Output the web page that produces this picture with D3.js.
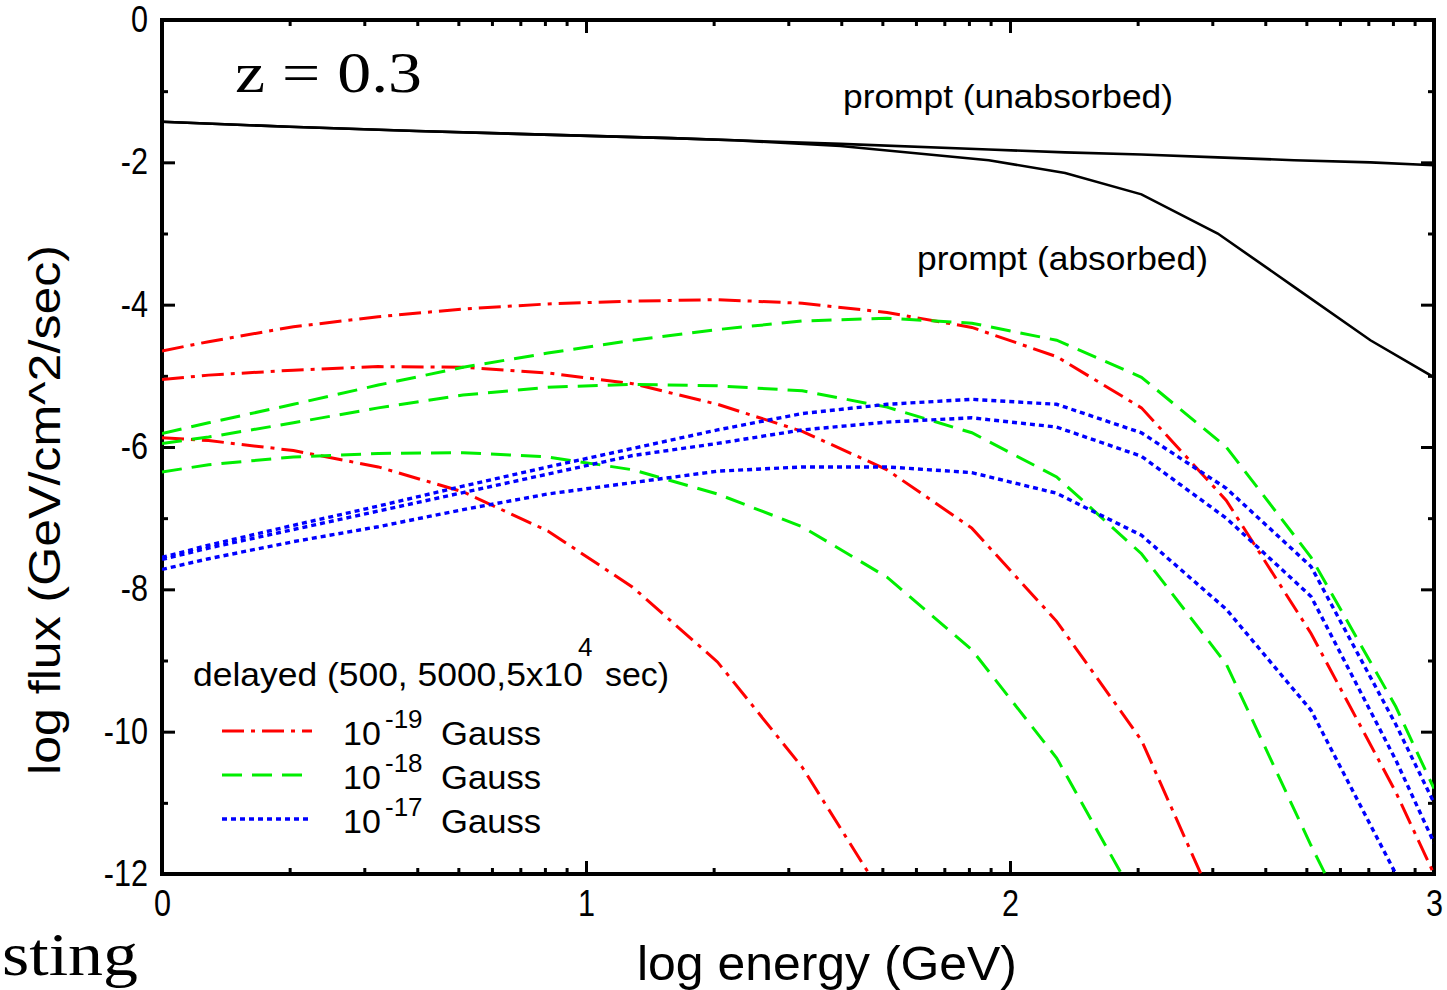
<!DOCTYPE html>
<html>
<head>
<meta charset="utf-8">
<script src="https://cdn.jsdelivr.net/npm/d3@7"></script>
<style>
  body { margin: 0; background: #fff; }
  svg { display: block; }
  .narrow { font-family: "Liberation Sans Narrow", "Arial Narrow", "Liberation Sans", Arial, sans-serif; }
</style>
</head>
<body>
<div id="chart"></div>
<script>
// energy grid (log GeV) for the delayed curves
var logE = [0, 0.11, 0.31, 0.51, 0.71, 0.91, 1.11, 1.31, 1.51, 1.71, 1.91, 2.11, 2.31, 2.51, 2.71, 2.91, 3.0];

// delayed, B = 1e-19 G (500, 5000, 5e4 sec)
var red500   = [-4.65, -4.52, -4.31, -4.17, -4.06, -3.99, -3.95, -3.93, -3.98, -4.11, -4.32, -4.73, -5.45, -6.75, -8.62, -10.85, -12.0];
var red5000  = [-5.05, -4.99, -4.92, -4.87, -4.88, -4.96, -5.11, -5.40, -5.78, -6.32, -7.14, -8.45, -10.12, -12.8];
var red5e4   = [-5.87, -5.91, -6.05, -6.28, -6.63, -7.18, -7.97, -9.02, -10.5, -12.4];
// delayed, B = 1e-18 G
var green500  = [-5.81, -5.66, -5.40, -5.13, -4.88, -4.68, -4.50, -4.35, -4.23, -4.19, -4.26, -4.50, -5.02, -6.00, -7.55, -9.65, -10.8];
var green5000 = [-5.95, -5.86, -5.66, -5.45, -5.27, -5.16, -5.12, -5.14, -5.21, -5.44, -5.80, -6.42, -7.50, -9.05, -11.6, -14.0];
var green5e4  = [-6.35, -6.25, -6.14, -6.09, -6.08, -6.14, -6.32, -6.66, -7.12, -7.83, -8.85, -10.37, -12.5];
// delayed, B = 1e-17 G
var blue500  = [-7.55, -7.38, -7.10, -6.83, -6.55, -6.28, -6.02, -5.76, -5.53, -5.40, -5.33, -5.40, -5.80, -6.58, -7.68, -9.90, -11.0];
var blue5000 = [-7.58, -7.42, -7.16, -6.90, -6.64, -6.38, -6.12, -5.95, -5.76, -5.65, -5.59, -5.72, -6.13, -7.00, -8.10, -10.4, -11.56];
var blue5e4  = [-7.72, -7.57, -7.33, -7.12, -6.88, -6.66, -6.50, -6.34, -6.28, -6.28, -6.36, -6.65, -7.24, -8.28, -9.70, -12.0];

// prompt emission
var logEPrompt  = [0, 0.3, 0.6, 0.9, 1.2, 1.35, 1.6, 1.95, 2.13, 2.31, 2.49, 2.67, 2.85, 3.0];
var unabsorbed  = [-1.43, -1.50, -1.56, -1.61, -1.66, -1.69, -1.74, -1.82, -1.86, -1.89, -1.93, -1.97, -2.00, -2.04];
var absorbed    = [-1.43, -1.50, -1.56, -1.61, -1.66, -1.69, -1.77, -1.97, -2.15, -2.45, -3.00, -3.75, -4.50, -5.02];

var xMajor = [0, 1, 2, 3];
var yMajor = [0, -2, -4, -6, -8, -10, -12];
var yMinor = [-1, -3, -5, -7, -9, -11];
var legendLabels = ["-19", "-18", "-17"];

var W = 1447, H = 990;
var margin = { top: 20, right: 13, bottom: 116, left: 162 },
  width = W - margin.left - margin.right,
  height = H - margin.top - margin.bottom;

var svg = d3.select("#chart").append("svg")
  .attr("width", W)
  .attr("height", H);

svg.append("rect").attr("width", W).attr("height", H).attr("fill", "#fff");

var g = svg.append("g")
  .attr("transform", "translate(" + margin.left + "," + margin.top + ")");

var x = d3.scaleLinear().domain([0, 3]).range([0, width]);
var y = d3.scaleLinear().domain([-12, 0]).range([height, 0]);

g.append("clipPath").attr("id", "plotclip")
  .append("rect").attr("width", width).attr("height", height);

// log-style minor ticks on the energy axis
var xMinor = [];
for (var k = 0; k < 3; k++) {
  for (var m = 2; m <= 9; m++) xMinor.push(k + Math.log10(m));
}

// squeeze text horizontally (the original uses a condensed face)
function squeeze(sel, f) {
  sel.each(function () {
    var w = this.getComputedTextLength();
    d3.select(this).attr("textLength", w * f).attr("lengthAdjust", "spacingAndGlyphs");
  });
}

function styleAxis(sel) {
  sel.select(".domain").remove();
  sel.selectAll("line").attr("stroke", "#000").attr("stroke-width", 3);
  sel.selectAll("text")
    .attr("class", "narrow")
    .style("font-size", "36px")
    .attr("fill", "#000");
}

var fmt = function (d) { return String(d); };

// bottom
g.append("g").attr("transform", "translate(0," + height + ")")
  .call(d3.axisBottom(x).tickValues(xMinor).tickSize(-6).tickFormat(""))
  .call(styleAxis);
var xAxis = g.append("g").attr("transform", "translate(0," + height + ")")
  .call(d3.axisBottom(x).tickValues(xMajor).tickSize(-13).tickPadding(16).tickFormat(fmt))
  .call(styleAxis);
// top
g.append("g")
  .call(d3.axisTop(x).tickValues(xMinor).tickSize(-6).tickFormat(""))
  .call(styleAxis);
g.append("g")
  .call(d3.axisTop(x).tickValues(xMajor).tickSize(-13).tickFormat(""))
  .call(styleAxis);
// left
g.append("g")
  .call(d3.axisLeft(y).tickValues(yMinor).tickSize(-6).tickFormat(""))
  .call(styleAxis);
var yAxis = g.append("g")
  .call(d3.axisLeft(y).tickValues(yMajor).tickSize(-13).tickPadding(14).tickFormat(fmt))
  .call(styleAxis);
// right
g.append("g").attr("transform", "translate(" + width + ",0)")
  .call(d3.axisRight(y).tickValues(yMinor).tickSize(-6).tickFormat(""))
  .call(styleAxis);
g.append("g").attr("transform", "translate(" + width + ",0)")
  .call(d3.axisRight(y).tickValues(yMajor).tickSize(-13).tickFormat(""))
  .call(styleAxis);

xAxis.selectAll("text").call(squeeze, 0.85);
yAxis.selectAll("text").call(squeeze, 0.85);

// frame
g.append("rect")
  .attr("width", width).attr("height", height)
  .attr("fill", "none").attr("stroke", "#000").attr("stroke-width", 4);

var line = d3.line()
  .x(function (d) { return x(d[0]); })
  .y(function (d) { return y(d[1]); });

function pairs(xs, ys) {
  return ys.map(function (v, i) { return [xs[i], v]; });
}

var dashRed = "22,7,4,7", dashGreen = "20,10", dashBlue = "5,4";

var series = [
  { xs: logEPrompt, ys: unabsorbed, color: "#000", dash: null, w: 2.6 },
  { xs: logEPrompt, ys: absorbed, color: "#000", dash: null, w: 2.6 },
  { xs: logE, ys: red500, color: "#ff0000", dash: dashRed, w: 3 },
  { xs: logE, ys: red5000, color: "#ff0000", dash: dashRed, w: 3 },
  { xs: logE, ys: red5e4, color: "#ff0000", dash: dashRed, w: 3 },
  { xs: logE, ys: green500, color: "#00ee00", dash: dashGreen, w: 3 },
  { xs: logE, ys: green5000, color: "#00ee00", dash: dashGreen, w: 3 },
  { xs: logE, ys: green5e4, color: "#00ee00", dash: dashGreen, w: 3 },
  { xs: logE, ys: blue500, color: "#0000ff", dash: dashBlue, w: 3.4 },
  { xs: logE, ys: blue5000, color: "#0000ff", dash: dashBlue, w: 3.4 },
  { xs: logE, ys: blue5e4, color: "#0000ff", dash: dashBlue, w: 3.4 }
];

var curves = g.append("g").attr("clip-path", "url(#plotclip)");
curves.selectAll("path")
  .data(series).enter().append("path")
  .attr("d", function (d) { return line(pairs(d.xs, d.ys)); })
  .attr("fill", "none")
  .attr("stroke", function (d) { return d.color; })
  .attr("stroke-width", function (d) { return d.w; })
  .attr("stroke-dasharray", function (d) { return d.dash; });

// annotations
svg.append("text")
  .attr("x", 235).attr("y", 92)
  .attr("textLength", 187).attr("lengthAdjust", "spacingAndGlyphs")
  .style("font-family", "'Liberation Serif', 'DejaVu Serif', serif")
  .style("font-size", "58px")
  .text("z = 0.3");

svg.append("text").attr("class", "narrow")
  .attr("x", 843).attr("y", 108)
  .attr("textLength", 330).attr("lengthAdjust", "spacingAndGlyphs")
  .style("font-size", "34px")
  .text("prompt (unabsorbed)");

svg.append("text").attr("class", "narrow")
  .attr("x", 917).attr("y", 270)
  .attr("textLength", 291).attr("lengthAdjust", "spacingAndGlyphs")
  .style("font-size", "34px")
  .text("prompt (absorbed)");

// legend
var leg = svg.append("g");
leg.append("text").attr("class", "narrow")
  .attr("x", 193).attr("y", 686)
  .attr("textLength", 390).attr("lengthAdjust", "spacingAndGlyphs")
  .style("font-size", "34px")
  .text("delayed (500, 5000,5x10");
leg.append("text").attr("class", "narrow")
  .attr("x", 578).attr("y", 656)
  .style("font-size", "26px")
  .text("4");
leg.append("text").attr("class", "narrow")
  .attr("x", 605).attr("y", 686)
  .attr("textLength", 64).attr("lengthAdjust", "spacingAndGlyphs")
  .style("font-size", "34px")
  .text("sec)");

var legRows = leg.selectAll(".row")
  .data(series.slice(2).filter(function (d, i) { return i % 3 === 0; }))
  .enter().append("g")
  .attr("transform", function (d, i) { return "translate(0," + (731 + i * 44) + ")"; });

legRows.append("line")
  .attr("x1", 222).attr("x2", 312)
  .attr("stroke", function (d) { return d.color; })
  .attr("stroke-width", function (d) { return d.w; })
  .attr("stroke-dasharray", function (d) { return d.dash; });

legRows.append("text").attr("class", "narrow")
  .attr("x", 343).attr("y", 14)
  .style("font-size", "34px")
  .text("10");
legRows.append("text").attr("class", "narrow")
  .attr("x", 385).attr("y", -3)
  .style("font-size", "26px")
  .text(function (d, i) { return legendLabels[i]; });
legRows.append("text").attr("class", "narrow")
  .attr("x", 441).attr("y", 14)
  .attr("textLength", 100).attr("lengthAdjust", "spacingAndGlyphs")
  .style("font-size", "34px")
  .text("Gauss");

// axis titles
svg.append("text").attr("class", "narrow")
  .attr("x", 827).attr("y", 980)
  .attr("text-anchor", "middle")
  .attr("textLength", 380).attr("lengthAdjust", "spacingAndGlyphs")
  .style("font-size", "48px")
  .text("log energy (GeV)");

svg.append("text")
  .attr("transform", "translate(60,510) rotate(-90)")
  .attr("text-anchor", "middle")
  .attr("textLength", 530).attr("lengthAdjust", "spacingAndGlyphs")
  .style("font-family", "'Liberation Sans', Arial, sans-serif")
  .style("font-size", "44px")
  .text("log flux (GeV/cm^2/sec)");

// text fragments from the surrounding page
svg.append("text")
  .attr("x", 2).attr("y", 975)
  .attr("textLength", 136).attr("lengthAdjust", "spacingAndGlyphs")
  .style("font-family", "'Liberation Serif', 'DejaVu Serif', serif")
  .style("font-size", "62px")
  .text("sting");
svg.append("text")
  .attr("x", -22).attr("y", 578)
  .style("font-family", "'Liberation Serif', 'DejaVu Serif', serif")
  .style("font-size", "40px")
  .text("g");
</script>
</body>
</html>
